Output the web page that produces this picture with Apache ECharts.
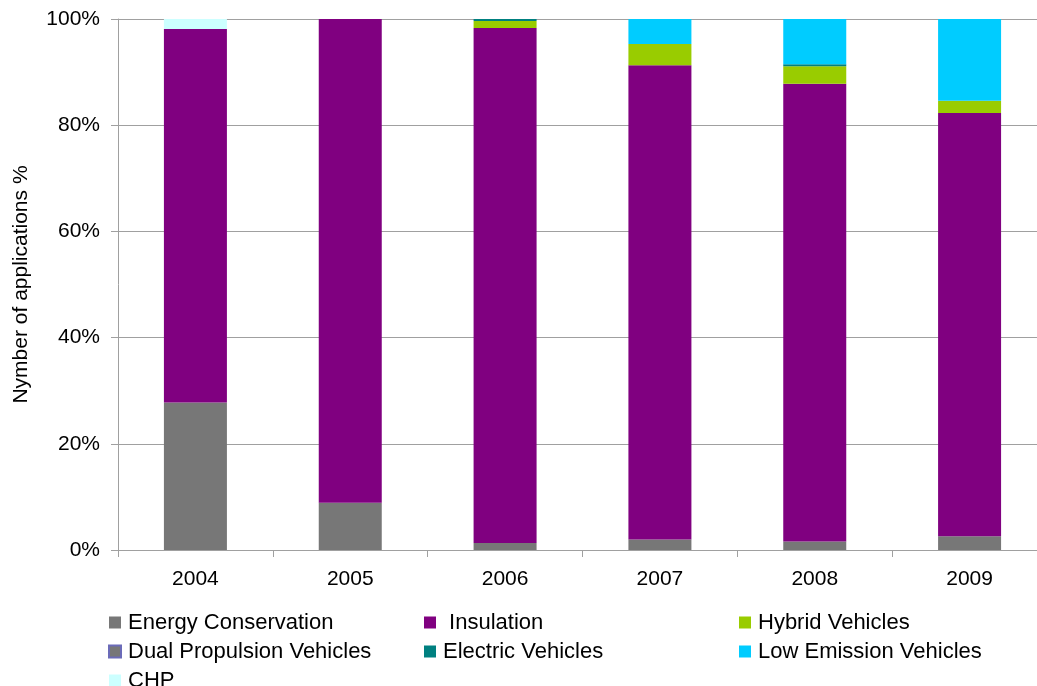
<!DOCTYPE html>
<html>
<head>
<meta charset="utf-8">
<script src="https://cdn.jsdelivr.net/npm/echarts@6/dist/echarts.min.js"></script>
<style>
  html, body { margin: 0; padding: 0; background: #fff; }
  #chart { width: 1037px; height: 686px; }
</style>
</head>
<body>
<div id="chart"></div>
<script>
// Share of applications per measure, by year (percent of total)
const years = ['2004', '2005', '2006', '2007', '2008', '2009'];
const energyConservation = [27.8, 8.9, 1.3, 2.0, 1.6, 2.6];
const insulation        = [70.3, 91.1, 97.0, 89.3, 86.2, 79.7];
const hybridVehicles    = [0, 0, 1.3, 4.0, 3.3, 2.3];
const dualPropulsion    = [0, 0, 0, 0, 0, 0];
const electricVehicles  = [0, 0, 0.4, 0, 0.4, 0];
const lowEmission       = [0, 0, 0, 4.7, 8.5, 15.4];
const chp               = [1.9, 0, 0, 0, 0, 0];
const yTicks = [0, 20, 40, 60, 80, 100];

const font = 'Liberation Sans, Arial, sans-serif';

// zero-height segments are left out so their outlines are not stroked
function bar(name, data, color, border) {
  const style = { color: color };
  if (border) { style.borderColor = border; style.borderWidth = 1; }
  return {
    name: name,
    type: 'bar',
    stack: 'total',
    data: data.map(v => (v === 0 ? '-' : v)),
    barWidth: 63,
    itemStyle: style
  };
}

const chart = echarts.init(document.getElementById('chart'), null, { renderer: 'canvas' });
chart.setOption({
  animation: false,
  backgroundColor: '#ffffff',
  textStyle: { fontFamily: font },
  grid: { left: 118, top: 19, width: 929, bottom: 136, containLabel: false, outerBoundsMode: 'none' },
  legend: {
    left: 108,
    top: 608,
    width: 960,
    padding: 0,
    itemGap: 0,
    itemWidth: 12,
    itemHeight: 12,
    icon: 'rect',
    textStyle: { fontFamily: font, fontSize: 22, color: '#000', width: 296, lineHeight: 29, padding: [0, 0, 0, 2] },
    data: ['Energy Conservation', ' Insulation', 'Hybrid Vehicles',
           'Dual Propulsion Vehicles', 'Electric Vehicles', 'Low Emission Vehicles', 'CHP']
  },
  xAxis: {
    type: 'category',
    data: years,
    boundaryGap: true,
    axisLine: { lineStyle: { color: '#a0a0a0', width: 1 } },
    axisTick: { show: true, alignWithLabel: false, length: 7, lineStyle: { color: '#a0a0a0' } },
    axisLabel: { fontFamily: font, fontSize: 21, color: '#000', margin: 19 }
  },
  yAxis: {
    type: 'value',
    min: yTicks[0],
    max: yTicks[yTicks.length - 1],
    interval: 20,
    name: 'Nymber of applications %',
    nameLocation: 'middle',
    nameGap: 86,
    nameRotate: 90,
    nameTextStyle: { fontFamily: font, fontSize: 21, color: '#000' },
    axisLine: { show: true, lineStyle: { color: '#a0a0a0', width: 1 } },
    axisTick: { show: true, length: 7, lineStyle: { color: '#a0a0a0' } },
    axisLabel: { fontFamily: font, fontSize: 21, color: '#000', margin: 18, formatter: '{value}%' },
    splitLine: { show: true, lineStyle: { color: '#a0a0a0', width: 1 } }
  },
  series: [
    bar('Energy Conservation', energyConservation, '#777777'),
    bar(' Insulation', insulation, '#800080'),
    bar('Hybrid Vehicles', hybridVehicles, '#99cc00'),
    bar('Dual Propulsion Vehicles', dualPropulsion, '#777777', '#6b6bb8'),
    bar('Electric Vehicles', electricVehicles, '#008080'),
    bar('Low Emission Vehicles', lowEmission, '#00ccff'),
    bar('CHP', chp, '#ccffff')
  ]
});
</script>
</body>
</html>
